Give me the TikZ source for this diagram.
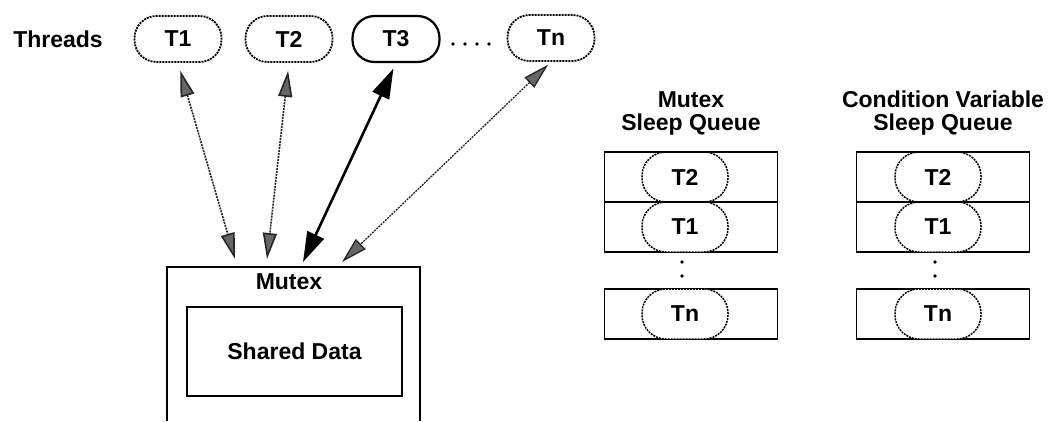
\documentclass[tikz,border=0pt]{standalone}
\usepackage{fontspec}
\setmainfont{Liberation Sans}
\usetikzlibrary{arrows.meta}

\tikzset{
  thread/.style={draw, dash pattern=on 2pt off 1pt, line width=1.8pt, rounded corners=22pt,
    minimum width=87pt, minimum height=46pt, inner sep=0pt},
  queuerow/.style={draw, line width=1.8pt, minimum width=173pt, minimum height=50pt, inner sep=0pt},
  queuethread/.style={draw, dash pattern=on 2pt off 1pt, line width=1.5pt, rounded corners=24pt,
    minimum width=86pt, minimum height=50pt, inner sep=0pt},
  grayarrow/.style={dash pattern=on 2pt off 1pt, line width=1.6pt, draw=black!85,
    {Triangle[length=26pt,width=14pt,fill=black!60]}-{Triangle[length=26pt,width=14pt,fill=black!60]}},
}

\begin{document}
\begin{tikzpicture}[x=1pt, y=-1pt, font=\fontsize{23}{23}\selectfont\bfseries]
    \useasboundingbox (0,0) rectangle (1051,421);
    %tikz threads
    \node at (58, 39) (lbl){Threads};
    \node[thread] at (178, 39) (T1){T1};
    \node[thread] at (289, 39) (T2){T2};
    \node[thread, solid, line width=2.2pt] at (396, 39) (T3){T3};
    \node[thread] at (551, 38) (Tn){Tn};
    \foreach \x in {453, 465, 477, 489}
      \fill (\x, 44) circle (1.8);

    %tikz mutex
    \draw[line width=1.8pt] (167, 421) -- (167, 267) -- (420, 267) -- (420, 421);
    \node at (289, 282) (mutex){Mutex};
    \node[draw, line width=1.8pt, minimum width=215pt, minimum height=89pt] at (294.5, 351.5) (data){Shared Data};
    \coordinate (m1) at (235, 259);
    \coordinate (m2) at (267, 259);
    \coordinate (m3) at (303, 262);
    \coordinate (m4) at (342, 262);
    \draw[grayarrow, shorten <=8pt] (T1.south) -- (m1);
    \draw[grayarrow, shorten <=8pt] (T2.south) -- (m2);
    \draw[{Triangle[length=30pt,width=18pt]}-{Triangle[length=30pt,width=18pt]}, line width=2.6pt, shorten <=6pt] (T3.south) -- (m3);
    \draw[grayarrow, line width=1.3pt, shorten <=4pt] (Tn.south) -- (m4);

    %tikz sleep queues
    \foreach \qx/\ox/\nm/\ttl in {691/685/qm/{Mutex\\Sleep Queue}, 943/938/qc/{Condition Variable\\Sleep Queue}} {
      \node[align=center] at (\qx, 113) (\nm lbl){\ttl};
      \node[queuerow] at (\qx, 227) (\nm row1){};
      \node[queuerow] at (\qx, 314) (\nm rown){};
      \node[queuethread, fill=white] at (\ox, 227) (\nm T1){T1};
      \node[queuethread, fill=white] at (\ox, 314) (\nm Tn){Tn};
      \node[queuerow] at (\qx, 177) (\nm row2){};
      \node[queuethread] at (\ox, 177) (\nm T2){T2};
      \fill (\ox-3, 262) circle (1.8);
      \fill (\ox-3, 276) circle (1.8);
    }
  \end{tikzpicture}
\end{document}
